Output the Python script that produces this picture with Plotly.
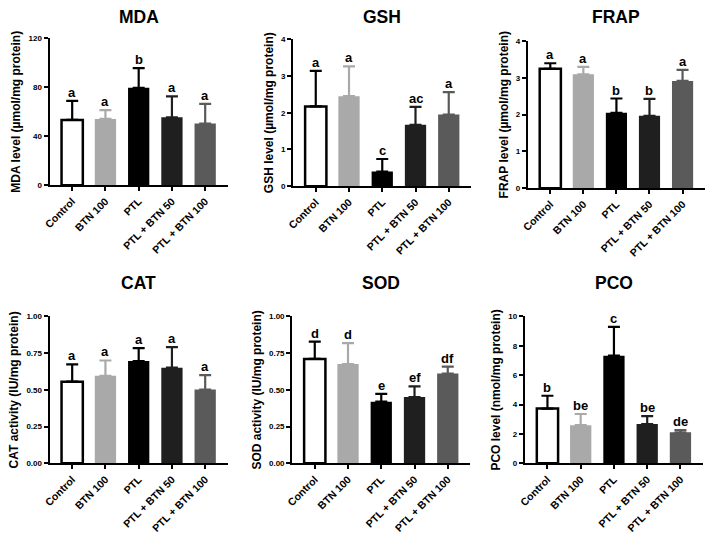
import plotly.graph_objects as go

W, H = 709, 534

categories = ["Control", "BTN 100", "PTL", "PTL + BTN 50", "PTL + BTN 100"]
bar_colors = ["#ffffff", "#a9a9a9", "#000000", "#1f1f1f", "#5a5a5a"]
err_colors = ["#000000", "#a9a9a9", "#000000", "#1f1f1f", "#5a5a5a"]

mda_mean = [53.3, 54.1, 79.6, 55.5, 50.4]
mda_err = [15.5, 7.2, 16.1, 17.0, 16.0]
mda_letters = ["a", "a", "b", "a", "a"]

gsh_mean = [2.17, 2.45, 0.40, 1.67, 1.95]
gsh_err = [0.97, 0.81, 0.34, 0.49, 0.61]
gsh_letters = ["a", "a", "c", "ac", "a"]

frap_mean = [3.25, 3.10, 2.05, 1.97, 2.92]
frap_err = [0.15, 0.20, 0.39, 0.46, 0.30]
frap_letters = ["a", "a", "b", "b", "a"]

cat_mean = [0.556, 0.596, 0.696, 0.651, 0.502]
cat_err = [0.117, 0.104, 0.088, 0.140, 0.098]
cat_letters = ["a", "a", "a", "a", "a"]

sod_mean = [0.711, 0.676, 0.420, 0.451, 0.611]
sod_err = [0.118, 0.142, 0.053, 0.073, 0.047]
sod_letters = ["d", "d", "e", "ef", "df"]

pco_mean = [3.73, 2.60, 7.33, 2.67, 2.11]
pco_err = [0.87, 0.76, 1.96, 0.55, 0.16]
pco_letters = ["b", "be", "c", "be", "de"]

panels = [
    dict(title="MDA", ytitle="MDA level (µmol/mg protein)", mean=mda_mean, err=mda_err,
         letters=mda_letters, yrange=[0, 120], tickvals=[0, 40, 80, 120], fmt="",
         px=(43, 223), py=(35, 185)),
    dict(title="GSH", ytitle="GSH level (µmol/mg protein)", mean=gsh_mean, err=gsh_err,
         letters=gsh_letters, yrange=[0, 4], tickvals=[0, 1, 2, 3, 4], fmt="",
         px=(289, 469), py=(36, 186)),
    dict(title="FRAP", ytitle="FRAP level (µmol/mg protein)", mean=frap_mean, err=frap_err,
         letters=frap_letters, yrange=[0, 4], tickvals=[0, 1, 2, 3, 4], fmt="",
         px=(526, 705), py=(38, 188)),
    dict(title="CAT", ytitle="CAT activity (IU/mg protein)", mean=cat_mean, err=cat_err,
         letters=cat_letters, yrange=[0, 1], tickvals=[0, 0.25, 0.5, 0.75, 1.0], fmt=".2f",
         px=(43, 223), py=(319, 469)),
    dict(title="SOD", ytitle="SOD activity (IU/mg protein)", mean=sod_mean, err=sod_err,
         letters=sod_letters, yrange=[0, 1], tickvals=[0, 0.25, 0.5, 0.75, 1.0], fmt=".2f",
         px=(288, 468), py=(319, 469)),
    dict(title="PCO", ytitle="PCO level (nmol/mg protein)", mean=pco_mean, err=pco_err,
         letters=pco_letters, yrange=[0, 10], tickvals=[0, 2, 4, 6, 8, 10], fmt="",
         px=(523, 703), py=(319, 469)),
]

FONT = "Liberation Sans, Arial, sans-serif"
fig = go.Figure()
layout = dict(
    width=W, height=H, margin=dict(l=0, r=0, t=0, b=0),
    paper_bgcolor="white", plot_bgcolor="white", showlegend=False,
    barmode="overlay", font=dict(family=FONT, color="black"),
)
annotations = []

for i, p in enumerate(panels):
    n = "" if i == 0 else str(i + 1)
    xa, ya = "x" + n, "y" + n
    for j, cat in enumerate(categories):
        fig.add_trace(go.Bar(
            x=[cat], y=[p["mean"][j]], xaxis=xa, yaxis=ya, width=0.64,
            marker=dict(color=bar_colors[j],
                        line=dict(color="black" if j == 0 else bar_colors[j],
                                  width=2.5 if j == 0 else 0)),
            error_y=dict(type="data", symmetric=False, array=[p["err"][j]], arrayminus=[0],
                         color=err_colors[j], thickness=2.2, width=6),
            hoverinfo="skip",
        ))
        annotations.append(dict(
            x=cat, y=p["mean"][j] + p["err"][j], xref=xa, yref=ya,
            text=p["letters"][j], showarrow=False, yanchor="bottom", yshift=-1,
            font=dict(family=FONT, size=13, color="black", weight="bold"),
        ))
    x0, x1 = p["px"]
    y0, y1 = p["py"]
    layout["xaxis" + n] = dict(
        domain=[x0 / W, x1 / W], anchor=ya, type="category",
        categoryorder="array", categoryarray=categories, range=[-0.68, 4.68],
        showline=True, linecolor="black", linewidth=2, ticks="outside",
        ticklen=4, tickwidth=1.5, tickcolor="black", tickangle=-45,
        tickfont=dict(family=FONT, size=10.5, color="black", weight="bold"),
        showgrid=False, zeroline=False, fixedrange=True,
    )
    layout["yaxis" + n] = dict(
        domain=[1 - y1 / H, 1 - y0 / H], anchor=xa, range=p["yrange"],
        tickvals=p["tickvals"], tickformat=p["fmt"],
        showline=True, linecolor="black", linewidth=2, ticks="outside",
        ticklen=4, tickwidth=1.5, tickcolor="black",
        tickfont=dict(family=FONT, size=8, color="black", weight="bold"),
        title=dict(text=p["ytitle"], standoff=5,
                   font=dict(family=FONT, size=12, color="black", weight="bold")),
        showgrid=False, zeroline=False, fixedrange=True,
    )
    annotations.append(dict(
        x=(x0 + x1) / 2 / W, y=1 - (13 if i < 3 else 285) / H, xref="paper", yref="paper",
        text=p["title"], showarrow=False, xanchor="center", yanchor="middle",
        font=dict(family=FONT, size=17.5, color="black", weight="bold"),
    ))

layout["annotations"] = annotations
fig.update_layout(**layout)
fig.write_html("out.html")
